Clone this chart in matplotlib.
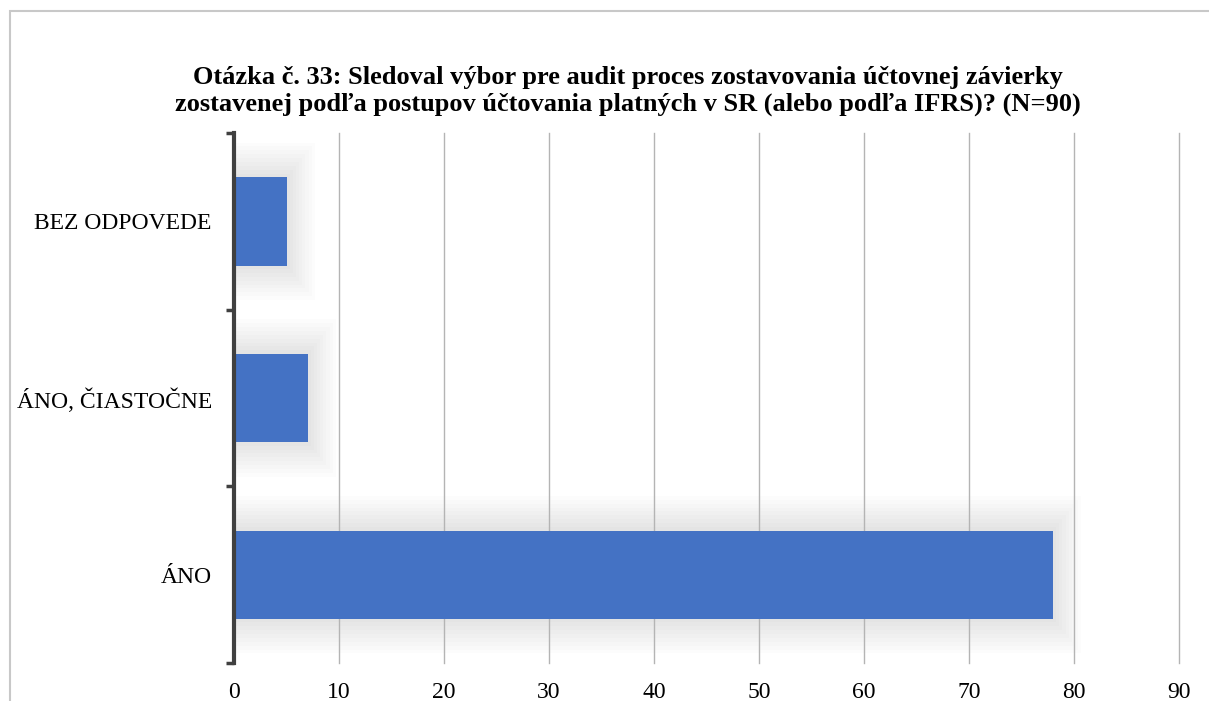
import matplotlib
matplotlib.use("Agg")
import matplotlib.pyplot as plt
from matplotlib.patches import Rectangle
import numpy as np

categories = ["ÁNO", "ÁNO, ČIASTOČNE", "BEZ ODPOVEDE"]
values = [78, 7, 5]
xticks = [0, 10, 20, 30, 40, 50, 60, 70, 80, 90]
title = ("Otázka č. 33: Sledoval výbor pre audit proces zostavovania účtovnej závierky\n"
         "zostavenej podľa postupov účtovania platných v SR (alebo podľa IFRS)? (N=90)")

plt.rcParams['font.family'] = ['Liberation Serif', 'DejaVu Serif']

W, H = 1209, 701
fig = plt.figure(figsize=(W/100, H/100), dpi=100)

# outer frame
fig.patches.append(Rectangle((10/W, -0.05), 1.2, 1 - 11/H + 0.05, transform=fig.transFigure,
                             fill=False, edgecolor='#c8c8c8', linewidth=1.5, zorder=0))

ax = fig.add_axes([234/W, 38/H, (1179-234)/W, (663-133)/H])
ypos = np.arange(len(categories))
bar_h = 0.5

# soft shadow
for i, (y, v) in enumerate(zip(ypos, values)):
    for k in range(9):
        pad_x = 0.3 + k * 0.3
        pad_y = 0.02 + k * 0.022
        ax.add_patch(Rectangle((0, y - bar_h/2 - pad_y), v + pad_x, bar_h + 2*pad_y,
                               facecolor='#000000', alpha=0.013, edgecolor='none', zorder=1))

ax.barh(ypos, values, height=bar_h, color='#4472C4', zorder=3)

ax.set_xlim(0, 90)
ax.set_ylim(-0.5, 2.5)
ax.set_xticks(xticks)
ax.set_xticklabels([str(t) for t in xticks], fontsize=17)
ax.set_yticks(ypos)
ax.set_yticklabels(categories, fontsize=17)
ax.tick_params(axis='y', length=0, pad=16)
ax.tick_params(axis='x', length=0, pad=14)

# y boundary ticks
ax.set_yticks([-0.5, 0.5, 1.5, 2.5], minor=True)
ax.tick_params(axis='y', which='minor', length=6, width=2.5, color='#404040', direction='out')

ax.grid(axis='x', color='#b4b4b4', linewidth=1, zorder=2)
for gl in ax.get_xgridlines():
    gl.set_zorder(2)
    gl.set_clip_on(False)
for s in ['top', 'right', 'bottom']:
    ax.spines[s].set_visible(False)
ax.spines['left'].set_color('#404040')
ax.spines['left'].set_linewidth(3)
ax.spines['left'].set_zorder(4)

fig.text(628/W, 1 - 91/H, title, ha='center', va='center', fontsize=19,
         fontweight='bold', linespacing=1.15)

fig.savefig("out.png", dpi=100)
